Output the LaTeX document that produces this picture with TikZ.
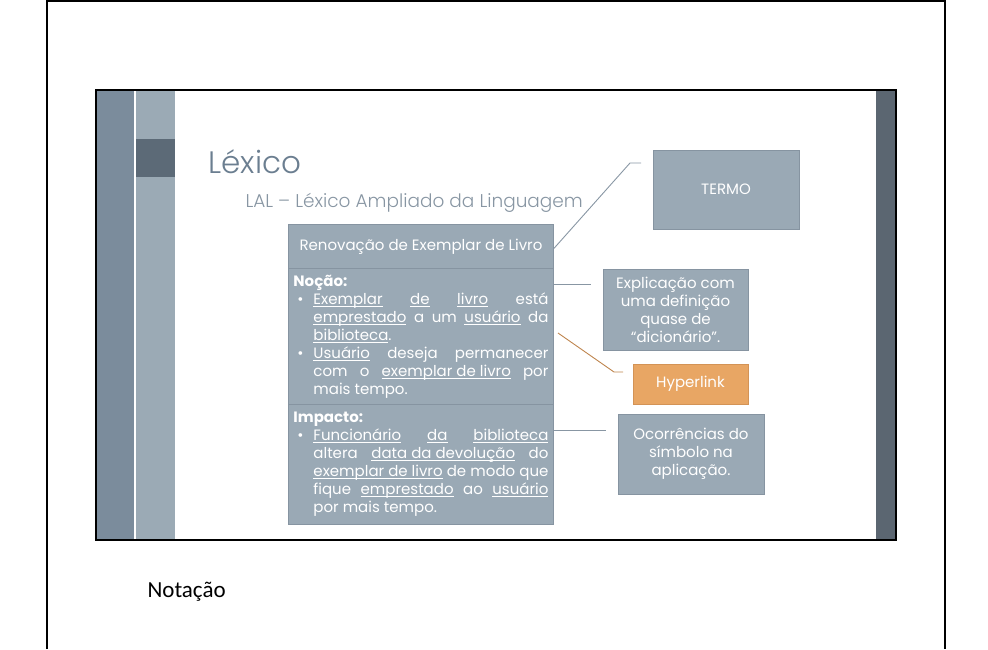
\documentclass[tikz,border=0pt]{standalone}
\usepackage{fontspec}
\setmainfont{Poppins}
\newfontfamily\lightfont{Poppins Light}
\newfontfamily\notefont{Carlito}
\usetikzlibrary{calc}

\definecolor{stripeA}{HTML}{7B8C9C}
\definecolor{stripeB}{HTML}{9BAAB5}
\definecolor{stripeC}{HTML}{5C6A77}
\definecolor{stripeR}{HTML}{5B6671}
\definecolor{boxfill}{HTML}{9AA9B5}
\definecolor{boxline}{HTML}{8694A1}
\definecolor{hypfill}{HTML}{E8A664}
\definecolor{hypline}{HTML}{D39356}
\definecolor{titlecol}{HTML}{6B7E90}
\definecolor{subcol}{HTML}{8896A3}

\def\bul{\par\leftskip=20pt\noindent\llap{\textbullet\hspace{10pt}}}
\def\ul#1{\setbox0\hbox{#1}\rlap{\rule[-2.2pt]{\wd0}{0.7pt}}\box0\relax}

\tikzset{
	slidebox/.style={draw=boxline, fill=boxfill, line width=0.9pt, text=white, inner sep=5pt, font=\fontsize{15}{18}\selectfont},
	hypbox/.style={slidebox, draw=hypline, fill=hypfill},
	link/.style={draw=subcol, line width=0.9pt},
	hlink/.style={draw=hypline!90!black, line width=0.9pt}
}

\begin{document}
\begin{tikzpicture}[x=1pt, y=-1pt]
			%%%%% START %%%%%
			\useasboundingbox (0,0) rectangle (988,649);
			
			% page edges
			\draw[line width=1.5pt] (47,649) -- (47,1) -- (945,1) -- (945,649);
			
			% slide
			\fill[stripeA] (96,90) rectangle (134,540);
			\fill[stripeB] (136,90) rectangle (175,540);
			\fill[stripeC] (136,139) rectangle (175,177);
			\fill[stripeR] (876,90) rectangle (896,540);
			\draw[line width=2pt] (96,90) rectangle (896,540);
			
			\node[anchor=base west, text=titlecol, font=\lightfont\fontsize{31}{31}\selectfont] (title) at (205,173) {Léxico};
			\node[anchor=base west, text=subcol, font=\lightfont\fontsize{18.5}{18.5}\selectfont] (subtitle) at (242,207) {LAL – Léxico Ampliado da Linguagem};
			
			% left column
			\node[slidebox, anchor=north west, minimum width=265, minimum height=44] (termo) at (288,224) {Renovação de Exemplar de Livro};
			\node[slidebox, anchor=north west, text width=255, minimum height=136, align=justify] (nocao) at (288,268) {%
				\textbf{Noção:}
				\bul\ul{Exemplar} \ul{de} \ul{livro} está\linebreak
				\ul{emprestado} a um \ul{usuário} da\linebreak
				\ul{biblioteca}.
				\bul\ul{Usuário} deseja permanecer\linebreak
				com o \ul{exemplar de livro} por\linebreak
				mais tempo.\par};
			\node[slidebox, anchor=north west, text width=255, minimum height=120, align=justify] (impacto) at (288,404) {%
				\textbf{Impacto:}
				\bul\ul{Funcionário} \ul{da} \ul{biblioteca}\linebreak
				altera \ul{data da devolução} do\linebreak
				\ul{exemplar de livro} de modo que\linebreak
				fique \ul{emprestado} ao \ul{usuário}\linebreak
				por mais tempo.\par};
			
			% right column
			\node[slidebox, minimum width=146, minimum height=79] (lblTermo) at (726,189.5) {TERMO};
			\node[slidebox, minimum width=145, minimum height=81, align=center] (lblExpl) at (675.5,309.5) {Explicação com\\uma definição\\quase de\\“dicionário”.};
			\node[hypbox, minimum width=115, minimum height=40] (lblHyper) at (690.5,384) {Hyperlink};
			\node[slidebox, minimum width=146, minimum height=80, align=center] (lblOcorr) at (691,454) {Ocorrências do\\símbolo na\\aplicação.};
			
			% callouts
			\coordinate (kTermo) at (630,163);
			\coordinate (kTermoEnd) at (641,163);
			\coordinate (kNocao) at (591,284);
			\coordinate (kHypA) at (558,333);
			\coordinate (kHypB) at (614,372);
			\coordinate (kHypC) at (623,372);
			\coordinate (kImpacto) at (606,430);
			
			\draw[link] ($(termo.east)+(0,2)$) -- (kTermo) -- (kTermoEnd);
			\draw[link] (nocao.east |- kNocao) -- (kNocao);
			\draw[hlink] (kHypA) -- (kHypB) -- (kHypC);
			\draw[link] (impacto.east |- kImpacto) -- (kImpacto);
			
			\node[anchor=base west, font=\notefont\fontsize{23}{23}\selectfont] (nota) at (144,597) {Notação};
			%%%%% END %%%%%
\end{tikzpicture}
\end{document}
